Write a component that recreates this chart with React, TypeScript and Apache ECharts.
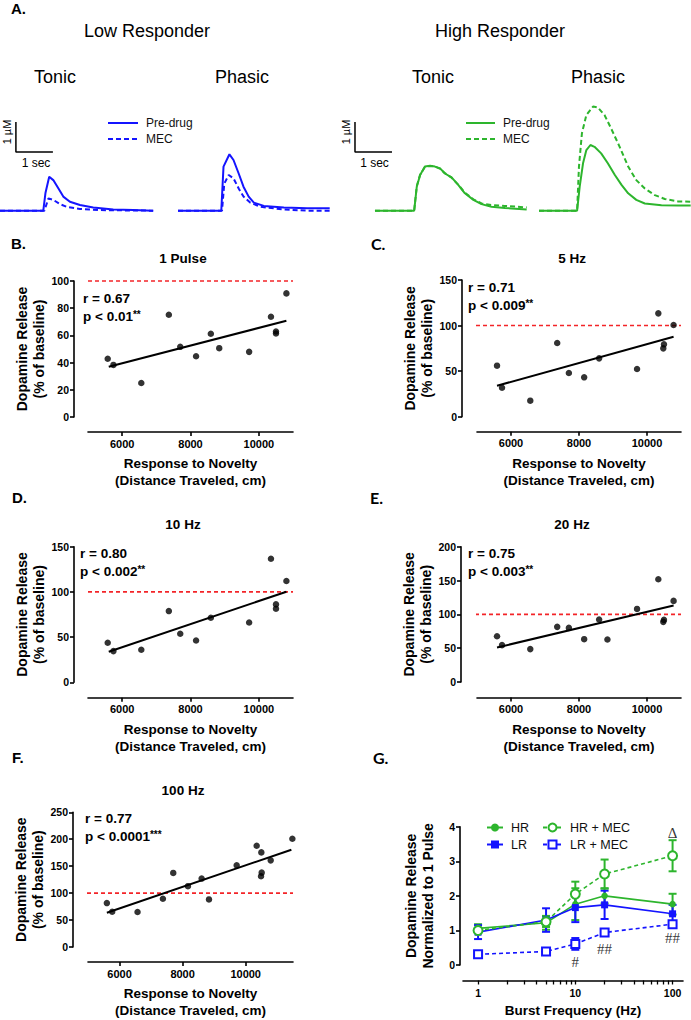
import React, { useEffect, useRef } from "react";
import * as echarts from "echarts";

const FONT = '"Liberation Sans", Arial, Helvetica, sans-serif';
const LATO = 'Lato, "Liberation Sans", sans-serif';
const SERIF = '"Liberation Serif", "DejaVu Serif", serif';
const BLUE = "#1414ff";
const GREEN = "#2db52d";
const RED = "#f32428";

// ---------- Panel A: voltammetry traces [time (s), dopamine (µM)] ----------
const lrTonicPre = [[0, 0], [1.17, 0], [1.23, 0.6], [1.33, 1.13], [1.44, 1.02], [1.58, 0.74], [1.71, 0.47], [1.89, 0.3], [2.16, 0.19], [2.52, 0.11], [3.06, 0.04], [3.6, 0.02], [4.14, 0]];
const lrTonicMec = [[0, 0], [1.2, 0], [1.31, 0.41], [1.44, 0.36], [1.62, 0.22], [1.8, 0.13], [2.16, 0.06], [2.7, 0.02], [4.14, 0]];
const lrPhasicPre = [[0, 0], [1.17, 0], [1.23, 1.47], [1.39, 1.88], [1.5, 1.69], [1.64, 1.24], [1.77, 0.8], [1.91, 0.47], [2.05, 0.27], [2.32, 0.16], [2.86, 0.11], [3.49, 0.08], [4.1, 0.08]];
const lrPhasicMec = [[0, 0], [1.19, 0], [1.25, 0.9], [1.37, 1.19], [1.5, 1.08], [1.64, 0.74], [1.77, 0.47], [1.95, 0.27], [2.23, 0.13], [2.86, 0.04], [3.49, 0], [4.1, 0]];
const hrTonicPre = [[0.81, 0], [1.87, 0], [1.94, 0.8], [2.03, 1.19], [2.16, 1.47], [2.3, 1.5], [2.43, 1.47], [2.57, 1.41], [2.7, 1.24], [2.88, 1.11], [3.06, 0.86], [3.24, 0.58], [3.47, 0.36], [3.69, 0.22], [3.96, 0.13], [4.32, 0.09], [4.91, 0.04]];
const hrTonicMec = [[0.81, 0], [1.87, 0], [1.94, 0.82], [2.03, 1.2], [2.16, 1.46], [2.3, 1.49], [2.43, 1.47], [2.57, 1.4], [2.7, 1.25], [2.88, 1.1], [3.06, 0.87], [3.24, 0.6], [3.47, 0.38], [3.69, 0.24], [3.96, 0.19], [4.32, 0.16], [4.91, 0.11]];
const hrPhasicPre = [[0, 0], [1.03, 0], [1.1, 0.8], [1.19, 1.58], [1.28, 2.02], [1.39, 2.19], [1.5, 2.13], [1.68, 1.91], [1.86, 1.58], [2.05, 1.19], [2.23, 0.86], [2.41, 0.58], [2.63, 0.36], [2.86, 0.24], [3.31, 0.18], [3.76, 0.17], [4.1, 0.17]];
const hrPhasicMec = [[0, 0], [1.03, 0], [1.08, 1.47], [1.16, 2.58], [1.28, 3.19], [1.46, 3.47], [1.59, 3.44], [1.77, 3.19], [1.95, 2.74], [2.18, 2.13], [2.41, 1.47], [2.63, 1.02], [2.86, 0.74], [3.13, 0.52], [3.4, 0.39], [3.76, 0.31], [4.1, 0.3]];
// scale bars: 1 µM vertical, 1 sec horizontal
const scaleBarLR = [[0.43, 2.96], [0.43, 1.96], [1.43, 1.96]];
const scaleBarHR = [[0.27, 2.96], [0.27, 1.96], [1.27, 1.96]];

// ---------- Panels B–F: release (% of baseline) vs distance traveled (cm) ----------
const distanceTicks = [6000, 8000, 10000];
const baselineLevel = 100;
const pulse1Dist = [5577, 5744, 6560, 7366, 7700, 8163, 8595, 8841, 9716, 10355, 10502, 10502, 10807];
const pulse1Release = [42.8, 38.3, 25, 75.2, 51.6, 44.7, 61.2, 50.6, 47.9, 73.7, 62.9, 61.4, 90.9];
const pulse1Fit = [[5607, 36.9], [10807, 70.8]];

const hz5Dist = [5589, 5736, 6567, 7359, 7702, 8152, 8592, 9707, 10333, 10499, 10479, 10782];
const hz5Release = [56, 31.8, 17.6, 80.9, 47.9, 43.2, 64, 52.3, 113.4, 79.4, 75, 100.6];
const hz5Fit = [[5589, 34], [10782, 87.8]];

const hz10Dist = [5577, 5744, 6560, 7366, 7700, 8163, 8595, 9716, 10355, 10502, 10502, 10807];
const hz10Release = [43.7, 34.5, 36, 78.8, 53.7, 46.3, 71.4, 66.2, 136.7, 86.2, 81.4, 112];
const hz10Fit = [[5607, 33.8], [10807, 100.2]];

const hz20Dist = [5589, 5736, 6567, 7359, 7702, 8152, 8592, 8836, 9707, 10333, 10499, 10479, 10782];
const hz20Release = [67.7, 54.5, 48.6, 81.5, 80, 63.3, 92.3, 62.8, 108, 151.8, 91.8, 88.9, 119.9];
const hz20Fit = [[5589, 51], [10782, 113]];

const hz100Dist = [5598, 5767, 6571, 7375, 7703, 8169, 8603, 8836, 9714, 10348, 10496, 10507, 10486, 10793, 11480];
const hz100Release = [81.5, 65.5, 64.9, 89.5, 137.5, 112.9, 127, 88.3, 151.6, 187.9, 175.6, 138, 131.3, 160.8, 200.8];
const hz100Fit = [[5598, 63.7], [11449, 180.5]];

// ---------- Panel G: normalized release vs burst frequency ----------
const burstFreq = [1, 5, 10, 20, 100];
const freqLabelTicks = [1, 10, 100];
const freqAllTicks = [1, 2, 3, 4, 5, 6, 7, 8, 9, 10, 20, 30, 40, 50, 60, 70, 80, 90, 100];
const hrMean = [1.06, 1.22, 1.76, 2.0, 1.76];
const hrSem = [0.12, 0.2, 0.46, 0.22, 0.3];
const lrMean = [0.95, 1.3, 1.66, 1.74, 1.48];
const lrSem = [0.2, 0.34, 0.42, 0.41, 0.26];
const hrMecMean = [1.0, 1.25, 2.05, 2.63, 3.16];
const hrMecSem = [0.08, 0.15, 0.36, 0.42, 0.45];
const lrMecMean = [0.31, 0.39, 0.61, 0.94, 1.18];
const lrMecSem = [0.04, 0.04, 0.17, 0.08, 0.06];
const gMarkX = [100, 10, 20, 100];
const gMarkY = [3.81, 0.1, 0.45, 0.77];
const gMarkText = ["Δ", "#", "##", "##"];

const PX_PER_SEC = 37;

function txt(text: string, x: number, y: number, size: number, opts: any = {}) {
  return {
    type: "text",
    x,
    y,
    rotation: opts.rotation || 0,
    z: 50,
    style: {
      text,
      fill: "#000",
      fontSize: size,
      fontWeight: opts.bold ? "bold" : "normal",
      fontFamily: opts.family || FONT,
      align: opts.align || "left",
      verticalAlign: "middle",
      rich: opts.rich,
    },
  };
}

function stat(x: number, y: number, r: string, p: string, stars: string) {
  return [
    txt(r, x, y, 13.5, { bold: true }),
    txt(`{a|${p}}{s|${stars}}`, x, y + 18, 13.5, {
      bold: true,
      rich: {
        a: { fontSize: 13.5, fontWeight: "bold", fontFamily: FONT, fill: "#000" },
        s: { fontSize: 10, fontWeight: "bold", fontFamily: FONT, fill: "#000", verticalAlign: "top" },
      },
    }),
  ];
}

function buildOption() {
  const grid: any[] = [];
  const xAxis: any[] = [];
  const yAxis: any[] = [];
  const series: any[] = [];
  const graphic: any[] = [];

  // ----- Panel A -----
  const traces = [
    { left: 0, width: 153, pre: lrTonicPre, mec: lrTonicMec, color: BLUE, tag: "LR", bar: scaleBarLR },
    { left: 178, width: 151, pre: lrPhasicPre, mec: lrPhasicMec, color: BLUE, tag: "LR", bar: null },
    { left: 345, width: 182, pre: hrTonicPre, mec: hrTonicMec, color: GREEN, tag: "HR", bar: scaleBarHR },
    { left: 539, width: 152, pre: hrPhasicPre, mec: hrPhasicMec, color: GREEN, tag: "HR", bar: null },
  ];
  traces.forEach((p, i) => {
    grid.push({ left: p.left, top: 96.7, width: p.width, height: 120 });
    xAxis.push({ gridIndex: i, type: "value", min: 0, max: p.width / PX_PER_SEC, show: false });
    yAxis.push({ gridIndex: i, type: "value", min: -0.2, max: 3.8, show: false });
    series.push({
      type: "line", name: `${p.tag} Pre-drug`, xAxisIndex: i, yAxisIndex: i, data: p.pre,
      symbol: "none", clip: false, lineStyle: { color: p.color, width: 2 }, itemStyle: { color: p.color },
    });
    series.push({
      type: "line", name: `${p.tag} MEC`, xAxisIndex: i, yAxisIndex: i, data: p.mec,
      symbol: "none", clip: false, lineStyle: { color: p.color, width: 2, type: [5, 3] }, itemStyle: { color: p.color },
    });
    if (p.bar) {
      series.push({
        type: "line", name: "scale bar", xAxisIndex: i, yAxisIndex: i, data: p.bar,
        symbol: "none", clip: false, lineStyle: { color: "#000", width: 1.5 },
      });
    }
  });

  // ----- Panels B–F -----
  const panels = [
    { left: 88, top: 281, width: 205, height: 136, xMin: 5000, xMax: 11000, yMax: 100, yInt: 20, xs: pulse1Dist, ys: pulse1Release, fit: pulse1Fit, yOff: 14, xOff: 15 },
    { left: 477, top: 280, width: 204, height: 136.7, xMin: 5000, xMax: 11000, yMax: 150, yInt: 50, xs: hz5Dist, ys: hz5Release, fit: hz5Fit, yOff: 15, xOff: 15 },
    { left: 88, top: 546.7, width: 205, height: 135.6, xMin: 5000, xMax: 11000, yMax: 150, yInt: 50, xs: hz10Dist, ys: hz10Release, fit: hz10Fit, yOff: 14, xOff: 15.5 },
    { left: 477, top: 546.7, width: 204, height: 135.3, xMin: 5000, xMax: 11000, yMax: 200, yInt: 50, xs: hz20Dist, ys: hz20Release, fit: hz20Fit, yOff: 16, xOff: 15.5 },
    { left: 88, top: 812.3, width: 205, height: 136, xMin: 5000, xMax: 11500, yMax: 250, yInt: 50, xs: hz100Dist, ys: hz100Release, fit: hz100Fit, yOff: 15, xOff: 15 },
  ];
  panels.forEach((p, k) => {
    const i = 4 + k;
    grid.push({ left: p.left, top: p.top, width: p.width, height: p.height });
    xAxis.push({
      gridIndex: i, type: "value", min: p.xMin, max: p.xMax, offset: p.xOff,
      axisLine: { show: true, onZero: false, lineStyle: { color: "#000", width: 1.6 } },
      axisTick: { show: true, length: 4, customValues: distanceTicks, lineStyle: { color: "#000", width: 1.6 } },
      axisLabel: {
        customValues: distanceTicks, formatter: (v: number) => String(v),
        color: "#000", fontWeight: "bold", fontSize: 11, fontFamily: FONT, margin: 6,
      },
      splitLine: { show: false },
      name: "Response to Novelty\n(Distance Traveled, cm)",
      nameLocation: "middle", nameGap: 23,
      nameTextStyle: { color: "#000", fontWeight: "bold", fontSize: 13.5, fontFamily: FONT, lineHeight: 17 },
    });
    yAxis.push({
      gridIndex: i, type: "value", min: 0, max: p.yMax, interval: p.yInt, offset: p.yOff,
      axisLine: { show: true, onZero: false, lineStyle: { color: "#000", width: 1.6 } },
      axisTick: { show: true, length: 4, lineStyle: { color: "#000", width: 1.6 } },
      axisLabel: { color: "#000", fontWeight: "bold", fontSize: 10.5, fontFamily: FONT, margin: 5 },
      splitLine: { show: false },
      name: "Dopamine Release\n(% of baseline)",
      nameLocation: "middle", nameGap: 26, nameRotate: 90,
      nameTextStyle: { color: "#000", fontWeight: "bold", fontSize: 14, fontFamily: FONT, lineHeight: 17 },
    });
    // 100 % baseline reference line, drawn from the (offset) y-axis to the right end
    const xAtYAxis = p.xMin - (p.yOff * (p.xMax - p.xMin)) / p.width;
    series.push({
      type: "line", xAxisIndex: i, yAxisIndex: i, clip: false, symbol: "none", silent: true, z: 1,
      data: [[xAtYAxis, baselineLevel], [p.xMax, baselineLevel]],
      lineStyle: { color: RED, width: 1.6, type: [4, 3] },
    });
    series.push({
      type: "scatter", xAxisIndex: i, yAxisIndex: i,
      data: p.xs.map((x, j) => [x, p.ys[j]]),
      symbol: "circle", symbolSize: 6.5, itemStyle: { color: "#000" }, z: 4,
    });
    series.push({
      type: "line", xAxisIndex: i, yAxisIndex: i, data: p.fit, symbol: "none",
      lineStyle: { color: "#000", width: 2 }, z: 3,
    });
  });

  // ----- Panel G -----
  grid.push({ left: 463, top: 826.7, width: 220, height: 138.3 });
  xAxis.push({
    gridIndex: 9, type: "log", logBase: 10, min: 0.7, max: 128, offset: 15.5, position: "bottom",
    splitLine: { show: false },
    axisLine: { show: true, onZero: false, lineStyle: { color: "#000", width: 1.6 } },
    axisTick: { show: true, length: 4, customValues: freqAllTicks, lineStyle: { color: "#000", width: 1.3 } },
    axisLabel: { customValues: freqLabelTicks, color: "#000", fontWeight: "bold", fontSize: 10.5, fontFamily: FONT, margin: 7 },
    name: "Burst Frequency (Hz)", nameLocation: "middle", nameGap: 23,
    nameTextStyle: { color: "#000", fontWeight: "bold", fontSize: 13.5, fontFamily: FONT },
  });
  yAxis.push({
    gridIndex: 9, type: "value", min: 0, max: 4, interval: 1, offset: 3,
    axisLine: { show: true, onZero: false, lineStyle: { color: "#000", width: 1.6 } },
    axisTick: { show: true, length: 4, lineStyle: { color: "#000", width: 1.6 } },
    axisLabel: { color: "#000", fontWeight: "bold", fontSize: 10.5, fontFamily: FONT, margin: 5 },
    splitLine: { show: false },
    name: "Dopamine Release\nNormalized to 1 Pulse",
    nameLocation: "middle", nameGap: 24, nameRotate: 90,
    nameTextStyle: { color: "#000", fontWeight: "bold", fontSize: 14, fontFamily: FONT, lineHeight: 17 },
  });

  const gGroups = [
    { name: "HR", mean: hrMean, sem: hrSem, color: GREEN, symbol: "circle", size: 6.5, dashed: false },
    { name: "LR", mean: lrMean, sem: lrSem, color: BLUE, symbol: "rect", size: 7, dashed: false },
    { name: "HR + MEC", mean: hrMecMean, sem: hrMecSem, color: GREEN, symbol: "emptyCircle", size: 9, dashed: true },
    { name: "LR + MEC", mean: lrMecMean, sem: lrMecSem, color: BLUE, symbol: "emptyRect", size: 8, dashed: true },
  ];
  gGroups.forEach((g) => {
    series.push({
      type: "custom", xAxisIndex: 9, yAxisIndex: 9, z: 2, silent: true,
      data: burstFreq.map((f, j) => [f, g.mean[j] - g.sem[j], g.mean[j] + g.sem[j]]),
      encode: { x: 0, y: [1, 2] },
      renderItem: (params: any, api: any) => {
        const lo = api.coord([api.value(0), api.value(1)]);
        const hi = api.coord([api.value(0), api.value(2)]);
        const w = 4;
        const st = { stroke: g.color, lineWidth: 2 };
        return {
          type: "group",
          children: [
            { type: "line", shape: { x1: lo[0], y1: lo[1], x2: hi[0], y2: hi[1] }, style: st },
            { type: "line", shape: { x1: lo[0] - w, y1: lo[1], x2: lo[0] + w, y2: lo[1] }, style: st },
            { type: "line", shape: { x1: hi[0] - w, y1: hi[1], x2: hi[0] + w, y2: hi[1] }, style: st },
          ],
        };
      },
    });
    series.push({
      type: "line", name: g.name, xAxisIndex: 9, yAxisIndex: 9, z: 5,
      data: burstFreq.map((f, j) => [f, g.mean[j]]),
      symbol: g.symbol, symbolSize: g.size, showSymbol: true,
      lineStyle: { color: g.color, width: 1.6, type: g.dashed ? [4, 3] : "solid" },
      itemStyle: { color: g.color, borderColor: g.color, borderWidth: g.dashed ? 1.6 : 0 },
    });
  });
  series.push({
    type: "scatter", xAxisIndex: 9, yAxisIndex: 9, z: 6, silent: true,
    symbolSize: 1, itemStyle: { color: "rgba(0,0,0,0)" },
    data: gMarkX.map((x, j) => ({ value: [x, gMarkY[j]], name: gMarkText[j] })),
    label: {
      show: true, position: "inside", formatter: (d: any) => d.name,
      color: "#000", fontSize: 15, fontFamily: SERIF,
    },
  });

  // ----- Texts -----
  graphic.push(txt("A.", 11, 8, 15, { bold: true }));
  graphic.push(txt("Low Responder", 147, 31, 18, { align: "center" }));
  graphic.push(txt("High Responder", 500, 31, 18, { align: "center" }));
  graphic.push(txt("Tonic", 55, 77, 18, { align: "center" }));
  graphic.push(txt("Phasic", 242, 77, 18, { align: "center" }));
  graphic.push(txt("Tonic", 433, 77, 18, { align: "center" }));
  graphic.push(txt("Phasic", 598, 77, 18, { align: "center" }));
  graphic.push(txt("1 µM", 6.5, 132, 11, { align: "center", rotation: Math.PI / 2 }));
  graphic.push(txt("1 µM", 346, 132, 11, { align: "center", rotation: Math.PI / 2 }));
  graphic.push(txt("1 sec", 36, 163, 12, { align: "center" }));
  graphic.push(txt("1 sec", 374.5, 163, 12, { align: "center" }));

  graphic.push(txt("B.", 11, 243, 15, { bold: true }));
  graphic.push(txt("C.", 371, 243, 16, { bold: true, family: LATO }));
  graphic.push(txt("D.", 12, 497, 15, { bold: true }));
  graphic.push(txt("E.", 370, 497, 16, { bold: true, family: LATO }));
  graphic.push(txt("F.", 12, 757, 15, { bold: true }));
  graphic.push(txt("G.", 373, 757, 16, { bold: true, family: LATO }));

  graphic.push(txt("1 Pulse", 183, 258, 13.5, { bold: true, align: "center" }));
  graphic.push(txt("5 Hz", 572, 258, 13.5, { bold: true, align: "center" }));
  graphic.push(txt("10 Hz", 183, 524, 13.5, { bold: true, align: "center" }));
  graphic.push(txt("20 Hz", 572, 524, 13.5, { bold: true, align: "center" }));
  graphic.push(txt("100 Hz", 183, 790, 13.5, { bold: true, align: "center" }));

  graphic.push(...stat(83, 298, "r = 0.67", "p < 0.01", "**"));
  graphic.push(...stat(468, 287, "r = 0.71", "p < 0.009", "**"));
  graphic.push(...stat(80, 553, "r = 0.80", "p < 0.002", "**"));
  graphic.push(...stat(468, 553, "r = 0.75", "p < 0.003", "**"));
  graphic.push(...stat(85, 818, "r = 0.77", "p < 0.0001", "***"));

  const legendText = { fontSize: 12, fontFamily: FONT, color: "#111", padding: [0, 0, 0, 3] };
  const legend = [
    {
      data: ["LR Pre-drug", "LR MEC"], orient: "vertical", left: 102, top: 112,
      itemWidth: 30, itemHeight: 12, itemGap: 4, selectedMode: false,
      itemStyle: { opacity: 0 },
      formatter: (n: string) => n.replace(/^LR /, ""), textStyle: legendText,
    },
    {
      data: ["HR Pre-drug", "HR MEC"], orient: "vertical", left: 460, top: 112,
      itemWidth: 29, itemHeight: 12, itemGap: 4, selectedMode: false,
      itemStyle: { opacity: 0 },
      formatter: (n: string) => n.replace(/^HR /, ""), textStyle: legendText,
    },
    {
      data: ["HR", "LR"], orient: "vertical", left: 481, top: 816,
      itemWidth: 16, itemHeight: 10, itemGap: 4, selectedMode: false,
      textStyle: { ...legendText, fontSize: 12.5 },
    },
    {
      data: ["HR + MEC", "LR + MEC"], orient: "vertical", left: 537, top: 816,
      itemWidth: 19, itemHeight: 10, itemGap: 4, selectedMode: false,
      textStyle: { ...legendText, fontSize: 12.5 },
    },
  ];

  return {
    animation: false,
    backgroundColor: "#fff",
    textStyle: { fontFamily: FONT },
    grid,
    xAxis,
    yAxis,
    series,
    legend,
    graphic,
  };
}

export default function App() {
  const ref = useRef<HTMLDivElement>(null);
  useEffect(() => {
    if (!ref.current) return;
    const chart = echarts.init(ref.current, null, { renderer: "svg" });
    chart.setOption(buildOption() as any);
    return () => chart.dispose();
  }, []);
  return (
    <div
      ref={ref}
      style={{ position: "absolute", left: 0, top: 0, width: 691, height: 1020, background: "#fff" }}
    />
  );
}
